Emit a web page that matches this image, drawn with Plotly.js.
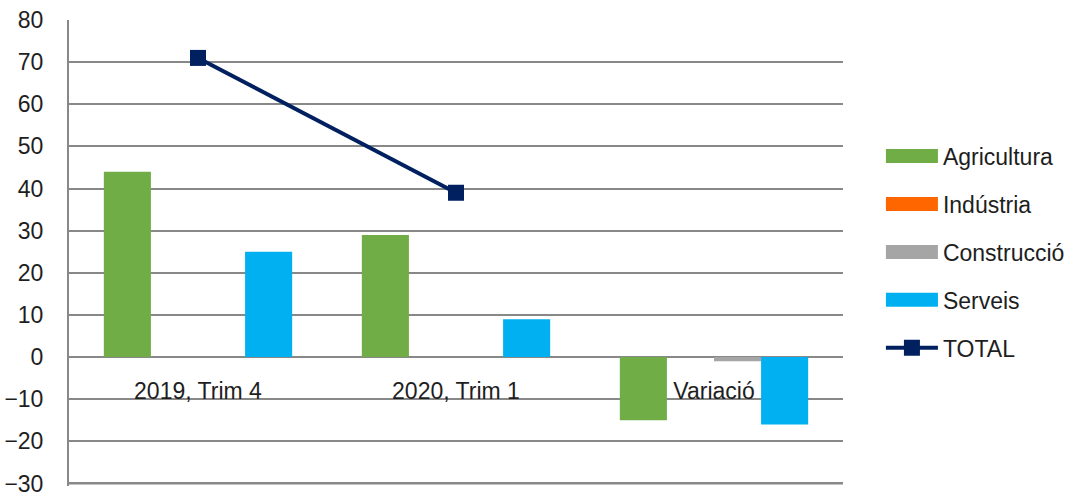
<!DOCTYPE html>
<html>
<head>
<meta charset="utf-8">
<script src="https://cdn.plot.ly/plotly-3.0.1.min.js"></script>
<style>html,body{margin:0;padding:0;background:#fff;}#chart{width:1080px;height:494px;}</style>
</head>
<body>
<div id="chart"></div>
<script>
const categories = ["2019, Trim 4", "2020, Trim 1", "Variació"];
const agricultura = [44, 29, -15];
const industria = [0, 0, 0];
const construccio = [0, 0, -1];
const serveis = [25, 9, -16];
const total = [71, 39, null];
const yTicks = [-30, -20, -10, 0, 10, 20, 30, 40, 50, 60, 70, 80];

const fontFam = "Liberation Sans, Arial, sans-serif";
const txtColor = '#1e1e1e';
const yMin = -30.6, yMax = 80;
function bar(name, y, color, g) {
  return {type: 'bar', name: name, x: categories, y: y, marker: {color: color}, legendgroup: g};
}
const traces = [
  bar('Agricultura', agricultura, '#70AD47', 'a'),
  bar('Indústria', industria, '#FF6600', 'b'),
  bar('Construcció', construccio, '#A5A5A5', 'c'),
  bar('Serveis', serveis, '#00B0F0', 'd'),
  {type: 'scatter', mode: 'lines+markers', name: 'TOTAL', x: categories, y: total,
   line: {color: '#002060', width: 4}, marker: {symbol: 'square', size: 16, color: '#002060'},
   legendgroup: 'e', connectgaps: false}
];
const layout = {
  width: 1080, height: 494,
  margin: {l: 69, r: 237, t: 20, b: 8},
  paper_bgcolor: '#fff', plot_bgcolor: '#fff',
  font: {family: fontFam, size: 23, color: txtColor},
  barmode: 'group', bargap: 0.27, bargroupgap: 0,
  showlegend: true,
  legend: {x: 1.049, xanchor: 'left', y: 0.754, yanchor: 'top', tracegroupgap: 15,
           traceorder: 'grouped', font: {size: 23, family: fontFam, color: txtColor}, itemwidth: 52},
  xaxis: {type: 'category', anchor: 'free', position: -yMin / (yMax - yMin), showgrid: false, showline: false,
          ticks: '', zeroline: false, ticklabelstandoff: 18, tickfont: {size: 23, family: fontFam, color: txtColor}},
  yaxis: {range: [yMin, yMax], tickvals: yTicks, showgrid: true, gridcolor: '#888', gridwidth: 2,
          zeroline: true, zerolinecolor: '#888', zerolinewidth: 2, ticklabeloverflow: 'allow',
          showline: true, linecolor: '#888', linewidth: 2, ticks: '', ticklabelstandoff: 19,
          tickfont: {size: 23, family: fontFam, color: txtColor}},
  shapes: [{type: 'line', xref: 'paper', yref: 'y', x0: 0, x1: 1, y0: yTicks[0], y1: yTicks[0],
            line: {color: '#888', width: 2}, layer: 'above'}]
};
Plotly.newPlot('chart', traces, layout, {displayModeBar: false, staticPlot: true}).then(function (gd) {
  // widen bar legend swatches to match the wide rectangles of the original legend
  gd.querySelectorAll('.legend .legendpoints .legendbar path, .legend .legendpoints path.legendundefined').forEach(function (p) {
    p.setAttribute('d', 'M26,7H-26V-7H26Z');
  });
});
</script>
</body>
</html>
